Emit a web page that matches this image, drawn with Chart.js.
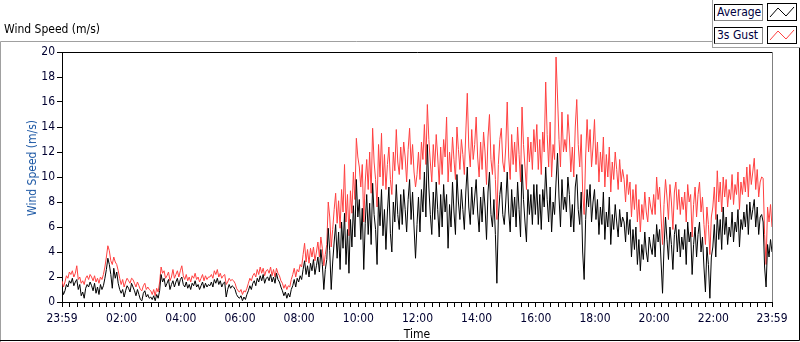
<!DOCTYPE html>
<html><head><meta charset="utf-8">
<script src="https://cdn.jsdelivr.net/npm/chart.js@4.4.1/dist/chart.umd.min.js"></script>
<style>
body{margin:0;background:#fff;}
#wrap{position:relative;width:800px;height:342px;overflow:hidden;background:#fff;font-family:'DejaVu Sans Condensed','DejaVu Sans',sans-serif;}
canvas{position:absolute;left:0;top:0;}
.t{position:absolute;white-space:nowrap;}
.lbl{position:absolute;background:#fff;border:1px solid #000;border-right-color:#888;border-bottom-color:#888;font-size:12px;line-height:15px;color:#000040;padding-left:2px;box-sizing:border-box;}
.sw{position:absolute;background:#fff;border:1px solid #000;box-sizing:border-box;}
</style></head><body>
<div id="wrap">
<canvas id="c" width="800" height="342"></canvas>
<div class="t" style="left:4px;top:22px;font-size:12px;line-height:14px;color:#000">Wind Speed (m/s)</div>
<div class="t" style="left:32px;top:168px;font-size:12px;line-height:14px;color:#1f5aa6;transform:translate(-50%,-50%) rotate(-90deg)">Wind Speed (m/s)</div>
<div style="position:absolute;left:712px;top:0;width:88px;height:48px;background:#fff;border-left:1px solid #a0a0a0;border-bottom:1px solid #a0a0a0;box-sizing:border-box"></div>
<div class="lbl" style="left:714px;top:4px;width:49px;height:17px">Average</div>
<div class="sw" style="left:767px;top:3px;width:30px;height:18px"><svg width="28" height="16" style="position:absolute;left:0;top:0"><polyline points="2,13 10,4 18,12 26,3" fill="none" stroke="#000" stroke-width="1"/></svg></div>
<div class="lbl" style="left:714px;top:27px;width:49px;height:17px">3s Gust</div>
<div class="sw" style="left:767px;top:26px;width:30px;height:18px"><svg width="28" height="16" style="position:absolute;left:0;top:0"><polyline points="2,13 10,4 18,12 26,3" fill="none" stroke="#ff4040" stroke-width="1"/></svg></div>
</div>
<script>
// time axis: minutes since 00:00 (start 23:59 of previous day = -1), 3-minute samples
const START_MIN = -1;
const STEP_MIN = 3;
const average = [
1.1,0.6,0.9,1.4,1.2,1.7,1.5,1.9,1.3,1.6,1.8,1.0,1.4,0.5,0.8,0.3,1.1,1.4,1.2,1.6,
1.3,0.9,1.5,0.7,1.2,0.6,1.4,1.0,1.3,1.9,2.6,3.5,3.0,2.2,1.1,2.7,1.9,2.4,1.5,1.0,
0.7,1.0,0.4,0.9,1.3,1.1,0.8,1.5,1.2,0.9,0.5,1.0,0.6,0.2,0.1,0.7,0.9,0.4,0.6,0.3,
0.4,0.2,0.5,0.1,0.6,0.3,0.9,2.2,1.6,1.9,1.2,1.5,1.8,1.0,1.4,1.7,1.2,1.6,1.9,1.3,
1.8,2.0,1.4,1.2,1.6,1.1,1.4,1.0,1.5,1.3,1.7,1.2,1.4,1.0,1.3,1.6,1.1,1.5,1.2,1.4,
1.3,1.6,1.2,1.8,1.5,1.9,1.4,1.7,1.2,1.5,1.6,0.4,1.0,1.4,1.1,1.3,1.2,1.0,0.6,0.4,
0.3,0.5,0.1,0.4,0.2,0.6,0.9,1.3,1.0,1.5,1.7,1.3,1.9,1.6,2.1,1.7,2.2,1.5,1.9,2.0,
1.7,2.2,1.6,2.0,1.5,2.3,1.8,1.6,1.2,0.9,0.5,0.8,0.3,0.7,0.4,1.0,1.3,1.8,1.2,1.9,
1.6,2.1,1.8,2.6,3.3,2.2,2.9,2.0,3.1,2.5,3.4,2.2,2.9,3.6,2.4,4.2,3.0,1.0,2.6,3.4,
5.9,4.1,1.0,3.2,4.8,6.2,3.5,5.6,2.6,6.4,4.3,7.1,3.0,5.8,2.3,6.6,4.4,7.7,5.2,9.8,
6.8,8.2,5.0,7.5,2.6,6.3,8.6,5.4,7.9,4.6,9.5,7.0,5.8,3.0,8.4,6.1,9.0,5.3,7.4,4.2,
7.2,9.2,5.5,4.0,8.0,6.4,9.4,7.0,5.8,8.6,6.2,9.0,7.4,5.6,8.2,9.8,6.6,8.8,6.0,3.5,
6.2,8.4,5.6,9.0,7.2,10.4,6.8,12.6,9.2,7.0,5.4,8.8,6.6,9.6,7.4,5.2,8.6,6.0,9.4,7.2,
8.6,4.3,7.8,6.0,9.6,7.2,5.4,10.2,8.0,6.6,9.0,7.4,5.8,8.8,10.8,7.6,6.2,9.2,7.0,8.4,
9.8,7.2,5.6,8.4,6.4,9.2,7.6,5.0,8.8,10.4,7.0,6.0,8.2,5.4,1.5,6.8,8.6,9.6,7.0,6.2,
8.0,10.4,7.2,5.6,9.0,6.8,8.4,6.0,9.6,7.4,5.2,11.0,8.2,6.4,4.8,9.0,7.0,8.6,6.2,9.4,
7.0,9.4,6.2,8.6,5.8,9.0,7.6,10.8,8.2,6.4,9.2,5.6,8.0,7.0,9.6,11.9,8.4,6.0,9.8,7.4,
8.4,7.2,10.0,8.6,6.0,7.8,5.6,9.2,10.2,7.4,6.2,8.8,4.0,1.8,6.6,9.0,7.6,9.4,6.4,8.0,
9.0,6.6,8.2,5.4,7.6,6.2,8.8,5.0,7.2,6.0,8.4,4.6,7.0,5.8,7.8,6.4,5.2,7.4,6.0,6.8,
6.4,4.8,7.2,5.4,6.6,3.6,5.8,4.2,6.0,3.0,5.0,2.5,4.6,3.4,5.6,4.0,3.2,5.2,4.4,3.8,
5.4,3.6,6.2,4.8,5.8,3.2,0.7,4.4,6.8,5.0,3.4,6.0,4.6,2.6,5.4,6.2,4.0,5.8,3.6,5.2,
4.2,5.8,3.0,6.4,4.8,5.6,2.2,4.6,6.0,3.6,5.4,6.4,4.0,5.2,2.8,0.8,4.4,3.0,0.3,3.6,
4.4,6.2,3.6,7.0,5.0,6.6,4.2,7.6,5.4,6.8,4.6,6.0,5.2,7.2,4.8,6.4,5.6,7.4,4.4,6.6,
5.8,7.2,6.0,7.8,5.4,8.0,6.6,7.4,8.2,6.0,7.6,5.4,6.8,7.0,6.4,2.8,1.2,4.6,3.6,5.0,
4.0];
const gust = [
1.7,1.2,1.6,2.1,1.9,2.4,2.2,2.5,2.0,2.3,2.9,1.8,2.0,1.5,1.7,1.4,1.9,2.1,1.8,2.2,
2.0,1.7,2.1,1.6,1.9,1.5,2.0,1.8,2.2,2.8,3.6,4.5,4.1,3.3,3.0,3.6,3.2,3.0,2.5,1.9,
1.4,1.8,1.2,1.6,1.9,1.7,1.5,1.9,1.8,1.5,1.2,1.6,1.3,1.0,0.9,1.3,1.5,1.0,1.2,1.0,
0.9,0.6,1.0,0.5,1.1,0.8,1.6,2.8,2.3,2.5,1.9,2.1,2.4,1.7,2.0,2.6,1.9,2.2,2.5,2.0,
2.5,2.9,2.1,1.8,2.2,1.7,2.0,1.6,2.1,1.9,2.3,1.8,2.0,1.6,1.9,2.2,1.7,2.1,1.8,2.0,
2.0,2.2,1.9,2.5,2.2,2.6,2.0,2.3,1.9,2.1,2.2,1.4,1.6,1.9,1.7,1.8,1.7,1.5,1.1,0.9,
0.8,1.0,0.6,0.9,0.8,1.1,1.5,1.9,1.7,2.1,2.3,2.0,2.6,2.2,2.8,2.3,2.7,2.1,2.5,2.6,
2.3,2.8,2.1,2.6,2.0,2.7,2.3,2.1,1.7,1.5,1.1,1.4,1.0,1.3,1.2,1.8,2.2,2.7,2.0,2.6,
2.4,3.0,2.8,3.8,4.7,3.2,4.2,3.1,4.3,3.6,4.4,3.3,4.0,4.8,3.6,5.2,4.3,2.9,3.8,4.6,
8.0,6.8,4.4,5.8,7.4,8.7,6.3,8.1,5.9,9.0,7.2,11.0,6.4,8.6,5.3,8.9,7.1,10.4,8.2,13.1,
11.6,10.8,9.2,11.0,6.4,9.6,11.4,9.0,12.0,8.7,13.9,11.2,9.8,7.6,12.6,10.0,13.5,9.3,11.8,9.0,
11.0,12.4,9.8,8.6,12.0,10.5,13.8,11.2,10.2,12.4,10.6,12.8,11.6,9.6,12.2,13.9,11.0,12.6,10.4,9.2,
10.2,12.0,9.8,12.8,11.4,14.2,11.0,15.8,13.0,11.2,9.6,12.6,10.8,13.4,11.6,9.4,12.4,10.2,13.0,11.6,
14.8,9.6,12.0,10.4,13.2,11.4,9.8,14.0,12.2,10.6,13.0,11.8,10.2,13.6,16.7,12.4,10.8,13.8,11.4,12.6,
14.8,11.6,10.0,12.8,10.6,13.6,12.0,9.4,13.2,15.0,11.4,10.2,12.6,9.8,6.6,11.0,13.0,13.9,11.2,10.4,
12.4,16.0,11.6,9.8,13.4,11.0,12.8,10.4,14.0,11.8,9.6,15.6,12.6,10.8,9.0,13.2,11.2,12.8,10.6,13.8,
12.0,14.2,10.6,13.0,10.2,13.6,12.0,17.6,13.4,10.8,14.4,10.0,12.6,11.4,19.6,16.4,13.0,10.8,15.2,12.0,
13.0,12.0,15.0,13.2,10.4,12.4,10.0,14.0,16.2,12.6,10.8,13.4,8.8,7.0,11.6,14.6,12.0,13.8,10.8,12.4,
14.6,11.0,12.8,9.6,12.0,10.4,13.2,9.2,11.8,10.0,12.4,8.8,11.2,9.8,12.0,10.6,9.0,11.4,9.6,10.6,
9.8,8.0,10.2,8.6,9.6,6.8,9.0,7.4,9.4,6.4,8.2,5.6,7.8,6.6,8.8,7.2,6.4,8.4,7.6,7.0,
8.6,7.0,10.0,8.2,9.2,6.8,4.6,7.8,9.8,8.4,6.6,9.4,8.0,5.8,8.8,9.6,7.4,9.0,7.0,8.4,
7.4,8.8,6.4,9.4,8.0,8.6,5.2,7.8,9.2,6.8,8.6,9.6,7.2,8.4,6.2,4.6,7.6,6.2,3.8,6.8,
7.6,9.2,6.6,10.5,8.0,9.6,7.2,10.0,8.4,9.8,7.6,9.0,8.2,10.2,7.8,9.4,8.6,10.4,7.4,9.6,
8.6,10.0,8.8,10.8,8.4,11.0,9.4,10.4,11.5,9.0,10.6,8.4,9.6,10.0,9.9,5.4,3.0,7.6,6.4,7.8,
6.0];
const majorTickMinutes = [-1,120,240,360,480,600,720,840,960,1080,1200,1320,1439];
const majorTickLabels = ['23:59','02:00','04:00','06:00','08:00','10:00','12:00','14:00','16:00','18:00','20:00','22:00','23:59'];
const minorTickStep = 15;
const yTicks = {min:0, max:20, step:2};

const times = average.map((_, i) => START_MIN + i * STEP_MIN);
const tickValues = [-1];
for (let m = minorTickStep; m < 1439; m += minorTickStep) tickValues.push(m);
tickValues.push(1439);

const FONT = "'DejaVu Sans Condensed','DejaVu Sans',sans-serif";

const framePlugin = {
  id: 'frame',
  beforeDraw(chart) {
    const ctx = chart.ctx;
    ctx.save();
    ctx.lineWidth = 1;
    ctx.strokeStyle = '#a0a0a0';
    ctx.beginPath();
    ctx.moveTo(0.5, 342); ctx.lineTo(0.5, 41.5); ctx.lineTo(712, 41.5);
    ctx.stroke();
    ctx.strokeStyle = '#000';
    ctx.beginPath();
    ctx.moveTo(799.5, 48); ctx.lineTo(799.5, 340.5); ctx.lineTo(0, 340.5);
    ctx.stroke();
    ctx.restore();
  },
  afterDatasetsDraw(chart) {
    const {ctx, chartArea: a} = chart;
    ctx.save();
    ctx.lineWidth = 1;
    ctx.strokeStyle = '#000';
    ctx.beginPath();
    ctx.moveTo(a.left, Math.floor(a.top) + 0.5); ctx.lineTo(Math.round(a.right) + 0.5, Math.floor(a.top) + 0.5);
    ctx.stroke();
    ctx.strokeStyle = '#808080';
    ctx.beginPath();
    ctx.moveTo(Math.round(a.right) + 0.5, a.top); ctx.lineTo(Math.round(a.right) + 0.5, a.bottom);
    ctx.stroke();
    ctx.restore();
  }
};

new Chart(document.getElementById('c'), {
  type: 'line',
  data: {
    datasets: [
      {label: 'Average', data: average.map((v, i) => ({x: times[i], y: v})), borderColor: '#000000', borderWidth: 1, pointRadius: 0, tension: 0, order: 0},
      {label: '3s Gust', data: gust.map((v, i) => ({x: times[i], y: v})), borderColor: '#ff4040', borderWidth: 1, pointRadius: 0, tension: 0, order: 1}
    ]
  },
  options: {
    responsive: false,
    animation: false,
    devicePixelRatio: 1,
    layout: {padding: {left: 0, right: 28, top: 52, bottom: 0}},
    plugins: {legend: {display: false}, tooltip: {enabled: false}, title: {display: false}},
    scales: {
      x: {
        type: 'linear', min: -1, max: 1439,
        afterBuildTicks: s => { s.ticks = tickValues.map(v => ({value: v})); },
        afterFit: s => { s.height = 40; },
        ticks: {
          autoSkip: false, maxRotation: 0, minRotation: 0, padding: 5,
          color: '#000030', font: {family: FONT, size: 12},
          callback: v => { const k = majorTickMinutes.indexOf(v); return k >= 0 ? majorTickLabels[k] : ''; }
        },
        grid: {drawOnChartArea: false, drawTicks: true, tickLength: 5, tickColor: '#000'},
        border: {color: '#000', width: 1},
        title: {display: true, text: 'Time', color: '#000', font: {family: FONT, size: 12}, padding: {top: 0, bottom: 0}}
      },
      y: {
        min: yTicks.min, max: yTicks.max,
        afterFit: s => { s.width = 62; },
        ticks: {stepSize: yTicks.step, padding: 2, color: '#000030', font: {family: FONT, size: 12}},
        grid: {drawOnChartArea: false, drawTicks: true, tickLength: 5, tickColor: '#000'},
        border: {color: '#000', width: 1}
      }
    }
  },
  plugins: [framePlugin]
});
</script>
</body></html>
